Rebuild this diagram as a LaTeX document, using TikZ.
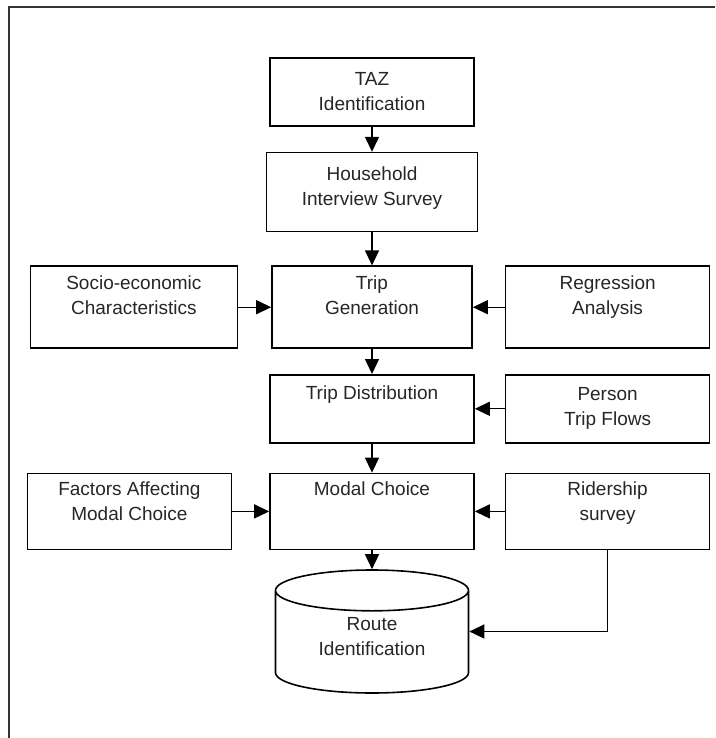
\documentclass[tikz,border=0pt]{standalone}
\usepackage{fontspec}
\setmainfont{Liberation Sans}
\usetikzlibrary{arrows.meta, positioning, shapes.geometric}
\newcommand{\padline}[1]{\\[#1]\mbox{}}

\begin{document}
\begin{tikzpicture}[x=1pt, y=1pt]
	\tikzset{->, >={Triangle[length=15pt, width=14pt]}, node distance=25pt,
		every node/.style={font=\fontsize{19}{25}\selectfont, align=center, text=black!85},
		stage/.style={draw, line width=1.6pt, minimum width=204pt, minimum height=68pt, inner sep=2pt},
		store/.style={draw, line width=1.6pt, cylinder, shape border rotate=90, aspect=0.36,
			minimum width=193pt, minimum height=123pt},
		flow/.style={line width=1.3pt}}
	\useasboundingbox (0,0) rectangle (715,-738);
	\draw[-, line width=1.8pt, black!80] (715,-7) -- (9,-7) -- (9,-738);

	\node[stage] (taz) at (372,-92) {TAZ\\Identification};
	\node[stage, below=25pt of taz, minimum width=211pt, minimum height=79pt] (survey) {Household\\Interview Survey\padline{-13pt}};
	\node[stage, below=33pt of survey, minimum width=200pt, minimum height=82pt] (tripgen) {Trip\\Generation\padline{-1pt}};
	\node[stage, left=33pt of tripgen, minimum width=207pt, minimum height=82pt] (socio) {Socio-economic\\Characteristics\padline{-1pt}};
	\node[stage, right=32pt of tripgen, minimum height=82pt] (regress) {Regression\\Analysis\padline{-1pt}};
	\node[stage, below=25pt of tripgen] (tripdist) {Trip Distribution\padline{8pt}};
	\node[stage, right=30pt of tripdist] (person) {Person\\Trip Flows};
	\node[stage, below=29pt of tripdist, minimum height=76pt] (modal) {Modal Choice\padline{20pt}};
	\node[stage, left=37pt of modal, minimum height=76pt] (factors) {Factors Affecting\\Modal Choice\padline{-5pt}};
	\node[stage, right=30pt of modal, minimum height=76pt] (rider) {Ridership\\survey\padline{-5pt}};
	\node[store, below=19pt of modal] (route) {Route\\Identification\padline{-9pt}};

	\draw[flow] (taz) -- (survey);
	\draw[flow] (survey) -- (tripgen);
	\draw[flow] (socio) -- (tripgen);
	\draw[flow] (regress) -- (tripgen);
	\draw[flow] (tripgen) -- (tripdist);
	\draw[flow] (person) -- (tripdist);
	\draw[flow] (tripdist) -- (modal);
	\draw[flow] (factors) -- (modal);
	\draw[flow] (rider) -- (modal);
	\draw[flow] (modal) -- (route);
	\draw[flow] (rider) |- (route.shape center -| route.east);
\end{tikzpicture}
\end{document}
